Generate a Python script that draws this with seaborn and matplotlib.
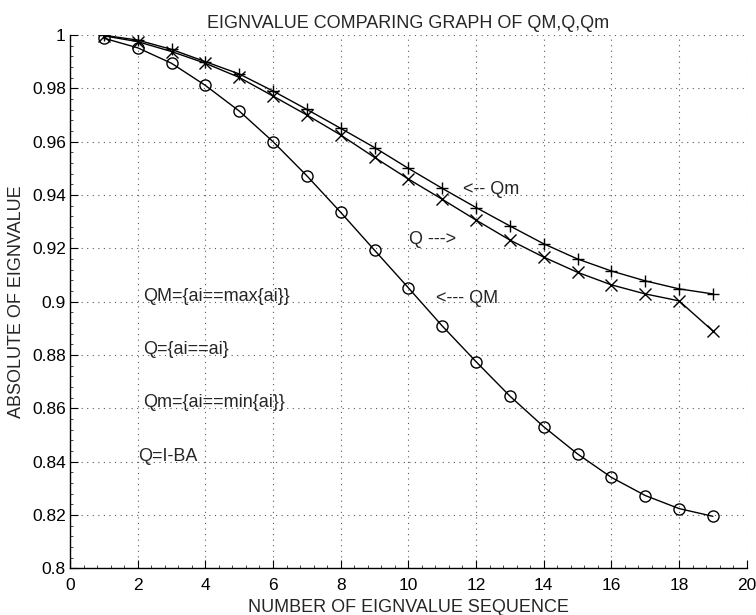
import matplotlib
matplotlib.use("Agg")
import matplotlib.pyplot as plt
import seaborn as sns
import numpy as np
import pandas as pd
from matplotlib.ticker import MultipleLocator

# ---- data ----
seq = list(range(1, 20))
qm_max = [0.9988, 0.9952, 0.9894, 0.9811, 0.9715, 0.9600, 0.9472, 0.9335, 0.9193, 0.9052,
          0.8909, 0.8775, 0.8646, 0.8531, 0.8429, 0.8341, 0.8273, 0.8224, 0.8195]
q_mid = [0.9997, 0.9975, 0.9938, 0.9894, 0.9841, 0.9771, 0.9700, 0.9625, 0.9541, 0.9460,
         0.9384, 0.9306, 0.9231, 0.9167, 0.9110, 0.9063, 0.9029, 0.9003, 0.8890]
qm_min = [0.9999, 0.9981, 0.9946, 0.9900, 0.9854, 0.9790, 0.9721, 0.9650, 0.9578, 0.9500,
          0.9425, 0.9353, 0.9284, 0.9217, 0.9160, 0.9115, 0.9078, 0.9048, 0.9029]
x_ticks = [0, 2, 4, 6, 8, 10, 12, 14, 16, 18, 20]
y_ticks = [0.8, 0.82, 0.84, 0.86, 0.88, 0.9, 0.92, 0.94, 0.96, 0.98, 1.0]
y_tick_labels = ["0.8", "0.82", "0.84", "0.86", "0.88", "0.9", "0.92", "0.94", "0.96", "0.98", "1"]

title = "EIGNVALUE COMPARING GRAPH OF QM,Q,Qm"
xlabel = "NUMBER OF EIGNVALUE SEQUENCE"
ylabel = "ABSOLUTE OF EIGNVALUE"

sns.set_style("white")
plt.rcParams['font.family'] = ['Liberation Sans', 'DejaVu Sans']

fig = plt.figure(figsize=(7.56, 6.15), dpi=100)
ax = fig.add_axes([70 / 756, 1 - 568.3 / 615, 676.7 / 756, 533.3 / 615])

df = pd.DataFrame({"seq": seq, "QM": qm_max, "Q": q_mid, "Qm": qm_min})

common = dict(color="black", linewidth=1.0, markersize=8, markeredgewidth=1.0, ax=ax)
sns.lineplot(data=df, x="seq", y="QM", marker="o", markerfacecolor="none",
             markeredgecolor="black", **common)
sns.lineplot(data=df, x="seq", y="Q", marker="x", markeredgecolor="black", **common)
sns.lineplot(data=df, x="seq", y="Qm", marker="+", markeredgecolor="black", **common)

ax.set_xlim(0, 20)
ax.set_ylim(0.8, 1.0)
ax.set_xticks(x_ticks)
ax.set_xticklabels([str(t) for t in x_ticks])
ax.set_yticks(y_ticks)
ax.set_yticklabels(y_tick_labels)
ax.xaxis.set_minor_locator(MultipleLocator(0.4))
ax.yaxis.set_minor_locator(MultipleLocator(0.004))

ax.grid(True, which="major", color="0.35", linestyle=(0, (1, 4)), linewidth=0.8)
for side in ["top", "right"]:
    ax.spines[side].set_visible(False)
for side in ["left", "bottom"]:
    ax.spines[side].set_color("black")
    ax.spines[side].set_linewidth(1.0)

ax.tick_params(which="major", direction="in", length=6, width=0.8, labelsize=12.5,
               colors="black", bottom=True, left=True)
ax.tick_params(axis="x", which="major", pad=7)
ax.tick_params(axis="y", which="major", pad=3)
ax.tick_params(which="minor", direction="in", length=2.5, width=0.6, bottom=True, left=True)

ax.set_title(title, fontsize=13, pad=5)
ax.set_xlabel(xlabel, fontsize=13)
ax.set_ylabel(ylabel, fontsize=13)
ax.xaxis.set_label_coords(0.5, -0.057)
ax.yaxis.set_label_coords(-0.066, 0.5)

fs = 13
ax.text(11.61, 0.942, "<-- Qm", fontsize=fs, ha="left", va="center")
ax.text(10.03, 0.9234, "Q --->", fontsize=fs, ha="left", va="center")
ax.text(10.82, 0.9013, "<--- QM", fontsize=fs, ha="left", va="center")
ax.text(2.15, 0.902, "QM={ai==max{ai}}", fontsize=fs, ha="left", va="center")
ax.text(2.17, 0.882, "Q={ai==ai}", fontsize=fs, ha="left", va="center")
ax.text(2.15, 0.862, "Qm={ai==min{ai}}", fontsize=fs, ha="left", va="center")
ax.text(2.02, 0.842, "Q=I-BA", fontsize=fs, ha="left", va="center")

fig.savefig("out.png", dpi=100)
